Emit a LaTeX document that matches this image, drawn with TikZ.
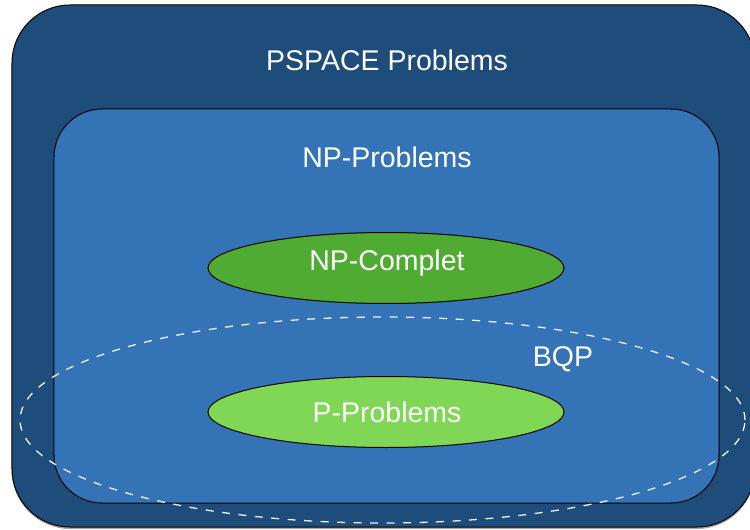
\documentclass[tikz,border=0pt]{standalone}
\usepackage{fontspec}
\setmainfont{Liberation Sans}
\usetikzlibrary{shapes.geometric,shadows}
\definecolor{darkblue}{RGB}{31,77,123}
\definecolor{midblue}{RGB}{52,116,182}
\definecolor{darkgreen}{RGB}{80,171,50}
\definecolor{lightgreen}{RGB}{128,215,85}
\definecolor{dashwhite}{RGB}{235,240,246}
\tikzset{
  box/.style={draw=black, line width=1bp, inner sep=0pt, rounded corners=#1},
  oval/.style={ellipse, draw=black, line width=1bp, inner sep=0pt,
    minimum width=356bp, minimum height=71bp},
  lbl/.style={text=white, font=\fontsize{28.5bp}{34bp}\selectfont, inner sep=0pt},
}
\begin{document}
\begin{tikzpicture}[x=1bp,y=-1bp]
\useasboundingbox (0,0) rectangle (750,530);
\node[box=58bp, fill=darkblue, minimum width=743bp, minimum height=522bp,
  drop shadow={shadow xshift=0bp, shadow yshift=-2bp, opacity=0.35, fill=black}] (outer) at (383.5,266) {};
\node[box=48bp, fill=midblue, minimum width=665bp, minimum height=394bp] (inner) at (386.5,306) {};
\node[oval, fill=darkgreen] (npc) at (386,268) {};
\node[oval, fill=lightgreen] (pp) at (386,412) {};
\node[ellipse, draw=dashwhite, line width=1.3bp, dash pattern=on 8bp off 8.5bp,
  minimum width=725bp, minimum height=206bp, inner sep=0pt] (bqp) at (382.5,420) {};
\node[lbl] (pspacelbl) at (387,60) {PSPACE Problems};
\node[lbl] (nplbl) at (387,157) {NP-Problems};
\node[lbl] (npclbl) at (387,263) {NP-Complet};
\node[lbl] (pplbl) at (387,412) {P-Problems};
\node[lbl] (bqplbl) at (563,359) {BQP};
\end{tikzpicture}
\end{document}
